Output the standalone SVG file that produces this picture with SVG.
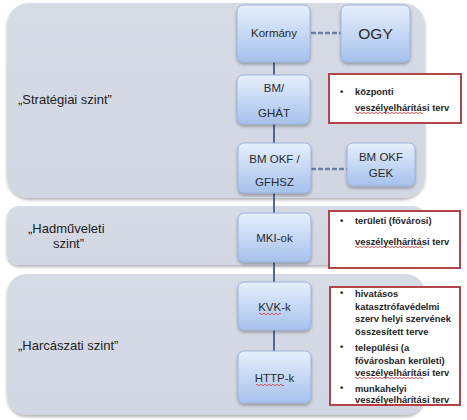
<svg xmlns="http://www.w3.org/2000/svg" width="467" height="420" viewBox="0 0 467 420">
<defs>
  <linearGradient id="nodeGrad" x1="0" y1="0" x2="0" y2="1">
    <stop offset="0" stop-color="#E6EFFC"/>
    <stop offset="1" stop-color="#A6C1EC"/>
  </linearGradient>
  <linearGradient id="panelGrad" x1="0" y1="0" x2="0" y2="1">
    <stop offset="0" stop-color="#D6DBE6"/>
    <stop offset="1" stop-color="#D1D6E2"/>
  </linearGradient>
  <filter id="shadow" x="-10%" y="-10%" width="120%" height="130%">
    <feDropShadow dx="0" dy="2" stdDeviation="1.5" flood-color="#000" flood-opacity="0.3"/>
  </filter>
</defs>
<style>
  .panel { fill: url(#panelGrad); filter: url(#shadow); }
  .node { fill: url(#nodeGrad); stroke: #9BB2D8; stroke-width: 1; filter: url(#shadow); }
  .ntext { font-family: "Liberation Sans", Arial, sans-serif; font-size: 11.5px; fill: #2a2a2a; text-anchor: middle; dominant-baseline: central; }
  .level { font-family: "Liberation Sans", Arial, sans-serif; font-size: 13px; fill: #222; dominant-baseline: central; }
  .rbox { fill: #fff; stroke: #B0464A; stroke-width: 2; }
  .btext { font-family: "Liberation Sans", Arial, sans-serif; font-size: 9.4px; font-weight: bold; fill: #1e1e1e; dominant-baseline: central; }
  .line { stroke: #4F6A94; stroke-width: 2; fill: none; }
  .dash { stroke: #6A7FA6; stroke-width: 2.5; stroke-dasharray: 5 2; fill: none; }
  .squig { stroke: #D03030; stroke-width: 0.8; fill: none; }
</style>

<g id="panels">
  <rect id="panel-strategic" class="panel" x="7" y="3" width="418" height="195" rx="22"/>
  <rect id="panel-operational" class="panel" x="7" y="206" width="418" height="59" rx="12"/>
  <rect id="panel-tactical" class="panel" x="7" y="274" width="418" height="141" rx="20"/>
  <text class="level" x="18" y="99">„Stratégiai szint”</text>
  <text class="level" x="28" y="228">„Hadműveleti</text>
  <text class="level" x="53" y="243">szint”</text>
  <text class="level" x="18" y="345">„Harcászati szint”</text>
</g>

<g id="connectors">
  <line class="line" x1="274" y1="62" x2="274" y2="75"/>
  <line class="line" x1="274" y1="124" x2="274" y2="143"/>
  <line class="line" x1="274" y1="193" x2="274" y2="213"/>
  <line class="line" x1="274" y1="262" x2="274" y2="282"/>
  <line class="line" x1="274" y1="330" x2="274" y2="351"/>
  <line class="dash" x1="311" y1="33" x2="341" y2="33"/>
  <line class="dash" x1="311" y1="169" x2="347" y2="169"/>
</g>

<g id="node-kormany">
  <rect class="node" x="237" y="5" width="73" height="57" rx="6"/>
  <text class="ntext" x="274" y="33">Kormány</text>
</g>
<g id="node-ogy">
  <rect class="node" x="341" y="5" width="69" height="57" rx="6"/>
  <text class="ntext" x="375.5" y="33" style="font-size:15.5px">OGY</text>
</g>
<g id="node-bm-ghat">
  <rect class="node" x="237" y="75" width="73" height="49" rx="6"/>
  <text class="ntext" x="274" y="88">BM/</text>
  <text class="ntext" x="274" y="113">GHÁT</text>
</g>
<g id="node-bmokf-gfhsz">
  <rect class="node" x="238" y="143" width="73" height="50" rx="6"/>
  <text class="ntext" x="274.5" y="159">BM OKF /</text>
  <text class="ntext" x="274.5" y="182">GFHSZ</text>
</g>
<g id="node-bmokf-gek">
  <rect class="node" x="347" y="143" width="68" height="43" rx="6"/>
  <text class="ntext" x="381" y="157">BM OKF</text>
  <text class="ntext" x="381" y="173">GEK</text>
</g>
<g id="node-mki">
  <rect class="node" x="238" y="213" width="73" height="49" rx="6"/>
  <text class="ntext" x="274.5" y="238">MKI-ok</text>
</g>
<g id="node-kvk">
  <rect class="node" x="238" y="282" width="73" height="48" rx="6"/>
  <text class="ntext" x="274.5" y="307">KVK-k</text>
  <path class="squig" d="M259 314 q1 -1.5 2 0 t2 0 t2 0 t2 0 t2 0 t2 0 t2 0 t2 0 t2 0 t2 0 t2 0"/>
</g>
<g id="node-http">
  <rect class="node" x="238" y="351" width="73" height="52" rx="6"/>
  <text class="ntext" x="274.5" y="378">HTTP-k</text>
  <path class="squig" d="M256 385 q1 -1.5 2 0 t2 0 t2 0 t2 0 t2 0 t2 0 t2 0 t2 0 t2 0 t2 0 t2 0 t2 0 t2 0 t2 0"/>
</g>

<g id="note-central">
  <rect class="rbox" x="329" y="74" width="132" height="49"/>
  <text class="btext" x="340" y="91">•</text>
  <text class="btext" x="355" y="91">központi</text>
  <text class="btext" x="355" y="107">veszélyelhárítási terv</text>
  <path class="squig" d="M355 113 q1 -1.5 2 0 t2 0 t2 0 t2 0 t2 0 t2 0 t2 0 t2 0 t2 0 t2 0 t2 0 t2 0 t2 0 t2 0 t2 0 t2 0 t2 0 t2 0 t2 0 t2 0 t2 0 t2 0 t2 0 t2 0 t2 0 t2 0 t2 0 t2 0 t2 0 t2 0 t2 0 t2 0 t2 0 t2 0"/>
</g>

<g id="note-territorial">
  <rect class="rbox" x="329" y="211" width="131" height="57"/>
  <text class="btext" x="340" y="220">•</text>
  <text class="btext" x="355" y="220">területi (fővárosi)</text>
  <text class="btext" x="355" y="241">veszélyelhárítási terv</text>
  <path class="squig" d="M355 247 q1 -1.5 2 0 t2 0 t2 0 t2 0 t2 0 t2 0 t2 0 t2 0 t2 0 t2 0 t2 0 t2 0 t2 0 t2 0 t2 0 t2 0 t2 0 t2 0 t2 0 t2 0 t2 0 t2 0 t2 0 t2 0 t2 0 t2 0 t2 0 t2 0 t2 0 t2 0 t2 0 t2 0 t2 0 t2 0"/>
</g>

<g id="note-local">
  <rect class="rbox" x="330" y="287" width="130" height="118"/>
  <text class="btext" x="340" y="292">•</text>
  <text class="btext" x="355" y="293">hivatásos</text>
  <text class="btext" x="355" y="306">katasztrófavédelmi</text>
  <text class="btext" x="355" y="318">szerv helyi szervének</text>
  <text class="btext" x="355" y="331">összesített terve</text>
  <text class="btext" x="340" y="346">•</text>
  <text class="btext" x="355" y="347">települési (a</text>
  <text class="btext" x="355" y="360">fővárosban kerületi)</text>
  <text class="btext" x="355" y="372">veszélyelhárítási terv</text>
  <path class="squig" d="M355 378 q1 -1.5 2 0 t2 0 t2 0 t2 0 t2 0 t2 0 t2 0 t2 0 t2 0 t2 0 t2 0 t2 0 t2 0 t2 0 t2 0 t2 0 t2 0 t2 0 t2 0 t2 0 t2 0 t2 0 t2 0 t2 0 t2 0 t2 0 t2 0 t2 0 t2 0 t2 0 t2 0 t2 0 t2 0 t2 0"/>
  <text class="btext" x="340" y="387">•</text>
  <text class="btext" x="355" y="388">munkahelyi</text>
  <text class="btext" x="355" y="399">veszélyelhárítási terv</text>
  <path class="squig" d="M355 405 q1 -1.5 2 0 t2 0 t2 0 t2 0 t2 0 t2 0 t2 0 t2 0 t2 0 t2 0 t2 0 t2 0 t2 0 t2 0 t2 0 t2 0 t2 0 t2 0 t2 0 t2 0 t2 0 t2 0 t2 0 t2 0 t2 0 t2 0 t2 0 t2 0 t2 0 t2 0 t2 0 t2 0 t2 0 t2 0"/>
</g>
</svg>
